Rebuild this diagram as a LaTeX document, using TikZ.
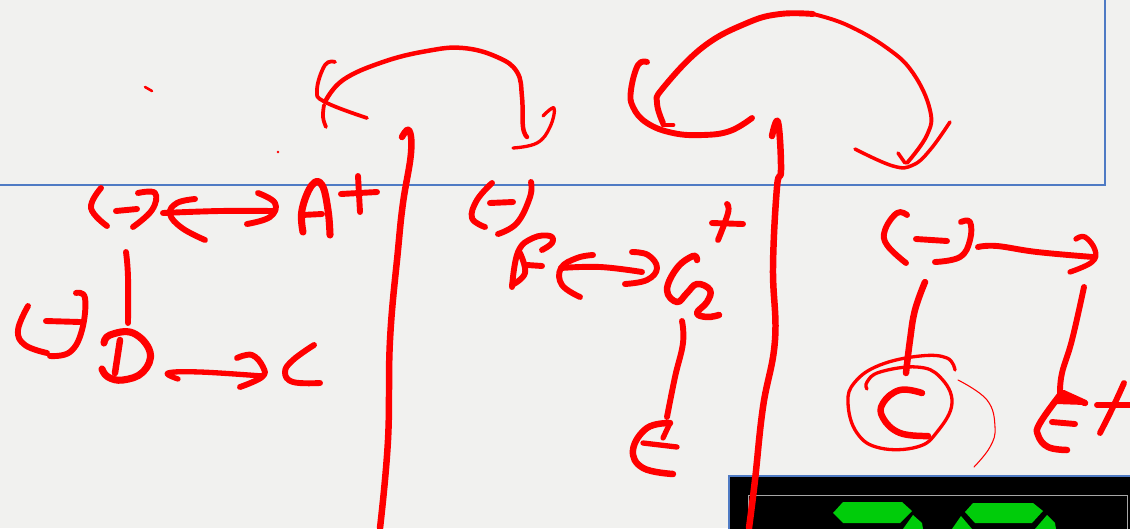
\documentclass[tikz,border=0pt]{standalone}
\definecolor{bg}{HTML}{F1F1EF}
\definecolor{pen}{HTML}{FF0000}
\definecolor{frame}{HTML}{4F7BC4}
\definecolor{seg}{HTML}{00CC0A}
\tikzset{
  ink/.style={draw=pen,line cap=round,line join=round},
  seg piece/.style={fill=seg,draw=none},
}
\newcommand{\inkline}[2]{\draw[ink,line width=1.18*#1pt] plot[smooth,tension=.7] coordinates {#2};}
\begin{document}
\begin{tikzpicture}[x=1pt,y=-1pt]
\useasboundingbox (0,0) rectangle (1130,528);
\clip (0,0) rectangle (1130,528);
\fill[bg] (0,0) rectangle (1130,528);
% slide frame
\draw[frame,line width=1.6pt] (0,185) -- (1105,185) -- (1105,0);
% display panel
\fill[black] (729,476) rectangle (1131,529);
\draw[frame,line width=2.2pt] (729,529) -- (729,476) -- (1131,476);
\draw[gray!70,line width=1pt] (748,529) -- (748,495) -- (1127,495) -- (1127,529);
\fill[seg piece] (833,513) -- (843,502) -- (902,502) -- (912,511) -- (900,523) -- (843,523) -- cycle;
\fill[seg piece] (903,529) -- (913,515) -- (922,523) -- (923,529) -- cycle;
\fill[seg piece] (965,512) -- (973,503) -- (1033,503) -- (1043,511) -- (1032,523) -- (975,523) -- cycle;
\fill[seg piece] (952,529) -- (961,516) -- (972,529) -- cycle;
\fill[seg piece] (1035,529) -- (1047,515) -- (1055,523) -- (1056,529) -- cycle;
% specks
\inkline{2.2}{(145,87)(152,91)}
\fill[pen] (278,152) circle (1.4);
% ( - ) top left
\inkline{5}{(101,188)(91,208)(107,226)}
\inkline{5}{(116,211)(137,209)}
\inkline{5}{(138,193)(155,193)(152,210)(133,227)}
% double arrow
\inkline{5}{(163,213)(220,211)(273,211)}
\inkline{5}{(195,199)(177,203)(170,214)(182,228)(205,240)}
\inkline{5}{(258,193)(275,203)(270,217)(247,224)}
% A+
\inkline{6}{(303,232)(302,210)(312,185)(322,185)(328,210)(330,235)}
\inkline{5}{(302,215)(322,214)}
\inkline{5}{(341,194)(377,192)}
\inkline{5}{(358,176)(360,212)}
% vertical to D
\inkline{5}{(126,252)(128,277)(128,323)}
% ( - ) left
\inkline{5}{(28,306)(18,330)(25,345)(47,353)}
\inkline{5}{(76,293)(85,298)(82,330)(70,352)(50,356)}
\inkline{5}{(46,321)(80,322)}
% D
\inkline{6}{(104,343)(110,335)(133,333)(150,352)(143,372)(123,380)(108,377)(102,369)}
\inkline{5.5}{(120,340)(115,373)}
% D -> C
\inkline{4.5}{(178,379)(168,373)(200,372)(262,376)}
\inkline{5}{(237,358)(252,355)(263,367)(262,377)(240,387)}
% C
\inkline{5}{(314,345)(293,360)(285,372)(293,382)(320,383)}
% left arc
\inkline{3.8}{(325,102)(343,80)(383,62)(427,51)(463,48)(497,57)(517,72)(522,97)(523,127)(527,137)}
\inkline{3.2}{(335,62)(325,65)(317,90)(325,102)(367,118)}
\inkline{3.2}{(324,105)(323,117)(326,127)}
\inkline{2.8}{(543,116)(554,108)(550,127)(537,143)(513,148)}
% long divider 1
\inkline{5.5}{(402,137)(409,130)(411,153)(403,203)(398,250)(390,340)(388,440)(380,528)}
% ( - ) middle
\inkline{5}{(492,183)(477,200)(472,218)(485,227)}
\inkline{5}{(490,203)(513,202)}
\inkline{5}{(531,182)(530,197)(517,223)(498,234)}
% F
\inkline{5}{(542,250)(552,243)(550,236)(533,238)(518,252)(512,287)}
\inkline{5}{(520,253)(525,273)(512,285)}
\inkline{5}{(527,265)(542,266)}
% F <-> G
\inkline{5}{(561,268)(600,267)(642,272)}
\inkline{5}{(593,255)(577,258)(561,268)(562,285)(580,297)}
\inkline{5}{(632,252)(648,255)(657,268)(647,280)(625,284)}
% G2
\inkline{5.5}{(697,260)(693,256)(677,268)(667,290)(677,302)(687,293)(697,284)(710,290)(707,302)(697,313)(707,317)(719,315)}
\inkline{5}{(712,223)(743,224)}
\inkline{5}{(727,204)(728,213)(718,240)}
\inkline{5}{(682,321)(683,343)(675,377)(667,417)}
% E middle
\inkline{5.5}{(670,423)(647,428)(633,450)(643,468)(673,474)}
\inkline{4.5}{(670,423)(663,438)}
\inkline{4.5}{(643,443)(677,447)}
% big arc
\inkline{5}{(663,123)(657,103)(663,88)(703,47)(747,23)(780,14)(813,14)}
\inkline{3.3}{(813,14)(847,25)(887,48)(913,73)(930,110)(927,135)(907,163)}
\inkline{5}{(647,62)(638,65)(631,90)(633,107)(647,123)(673,133)(703,135)(730,131)(752,118)}
\inkline{4}{(663,125)(673,125)}
\inkline{3}{(855,149)(893,166)(913,165)(930,150)(950,122)}
\inkline{3}{(898,153)(905,163)}
% long divider 2
\inkline{5.5}{(772,136)(778,122)(781,170)(777,187)(773,267)(775,340)(763,407)(755,480)(749,528)}
% ( - ) right
\inkline{5}{(907,215)(897,213)(885,230)(887,245)(906,263)}
\inkline{5}{(916,239)(947,241)}
\inkline{5}{(961,222)(970,222)(970,240)(960,257)(935,262)}
\inkline{5}{(978,247)(997,246)(1037,252)(1093,257)}
\inkline{4.5}{(1076,239)(1085,237)(1095,250)(1092,262)(1070,272)}
% verticals
\inkline{5.5}{(925,282)(915,310)(910,340)(906,373)}
\inkline{5}{(1084,287)(1072,340)(1062,373)(1060,393)}
% circled C
\inkline{2.8}{(955,370)(947,358)(920,356)(880,365)(855,382)(848,403)(857,433)(880,448)(917,447)(937,432)(952,403)(940,377)(917,367)(880,372)(867,382)(867,389)}
\inkline{5.5}{(922,393)(900,390)(883,403)(883,418)(900,433)(928,436)}
\inkline{.9}{(958,380)(987,400)(995,427)(990,447)(974,467)}
% E+ right
\inkline{5.5}{(1060,395)(1040,423)(1038,435)(1048,447)(1067,450)}
\inkline{5}{(1052,422)(1075,424)}
\inkline{5.5}{(1063,393)(1085,403)}
\fill[pen] (1058,388) -- (1085,401) -- (1085,405) -- (1056,404) -- cycle;
\inkline{5}{(1097,405)(1130,405)}
\inkline{5}{(1124,383)(1113,407)(1100,433)}
\end{tikzpicture}
\end{document}
